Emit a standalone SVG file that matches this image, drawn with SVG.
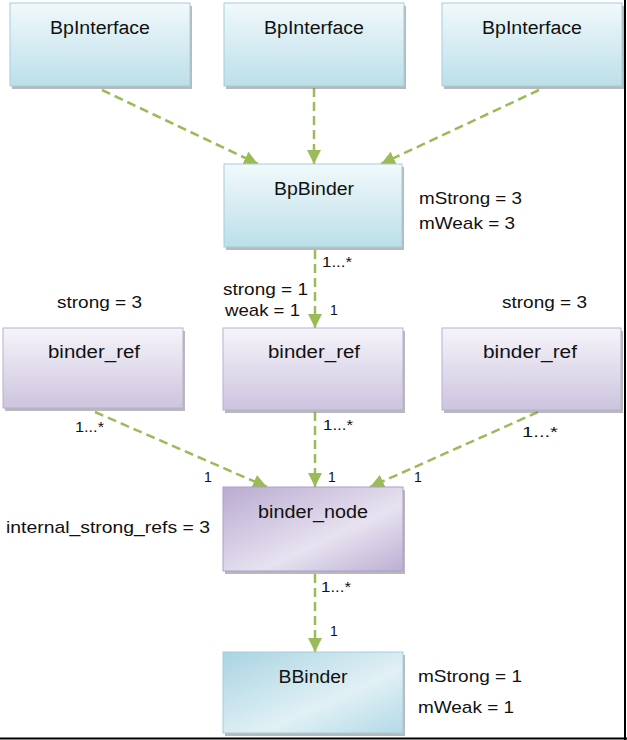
<svg xmlns="http://www.w3.org/2000/svg" width="627" height="740" viewBox="0 0 627 740">
  <defs>
    <linearGradient id="gBlue" x1="0" y1="0" x2="0" y2="1">
      <stop offset="0" stop-color="#f1f9fb"/>
      <stop offset="1" stop-color="#bcdfe9"/>
    </linearGradient>
    <linearGradient id="gPurple" x1="0" y1="0" x2="0" y2="1">
      <stop offset="0" stop-color="#f6f4fa"/>
      <stop offset="1" stop-color="#cdc4de"/>
    </linearGradient>
    <linearGradient id="gBlueDiag" x1="0" y1="0" x2="1" y2="1">
      <stop offset="0" stop-color="#a9d4e2"/>
      <stop offset="0.6" stop-color="#e1f0f5"/>
      <stop offset="1" stop-color="#b3d9e6"/>
    </linearGradient>
    <linearGradient id="gPurpleDiag" x1="0" y1="0" x2="1" y2="1">
      <stop offset="0" stop-color="#b9abd1"/>
      <stop offset="0.6" stop-color="#e7e2f0"/>
      <stop offset="1" stop-color="#bcafd3"/>
    </linearGradient>
    <marker id="arrow" markerUnits="userSpaceOnUse" markerWidth="14" markerHeight="14" viewBox="0 0 12 12" refX="12" refY="6" orient="auto">
      <path d="M0,0 L12,6 L0,12 Z" fill="#9bbb59"/>
    </marker>
  </defs>
  <style>
    .shadow { fill: #7f7f7f; opacity: 0.55; }
    .blue { fill: url(#gBlue); stroke: #a3cedb; stroke-width: 1; }
    .purple { fill: url(#gPurple); stroke: #b9afd1; stroke-width: 1; }
    .blueD { fill: url(#gBlueDiag); stroke: #a3cedb; stroke-width: 1; }
    .purpleD { fill: url(#gPurpleDiag); stroke: #ad9fc8; stroke-width: 1; }
    .name { font-family: "Liberation Sans", Arial, sans-serif; font-size: 18px; fill: #111; text-anchor: middle; }
    .lbl { font-family: "Liberation Sans", Arial, sans-serif; font-size: 17px; fill: #111; }
    .mul { font-family: "Liberation Sans", Arial, sans-serif; font-size: 14px; fill: #111; }
    .conn { stroke: #9bbb59; stroke-width: 2.5; fill: none; stroke-dasharray: 9 5; marker-end: url(#arrow); }
  </style>

  <rect width="627" height="740" fill="#ffffff"/>

  <g id="connectors">
    <line class="conn" x1="102" y1="90" x2="258" y2="164"/>
    <line class="conn" x1="314" y1="88" x2="314" y2="164"/>
    <line class="conn" x1="539" y1="90" x2="381" y2="164"/>
    <line class="conn" x1="315" y1="250" x2="315" y2="328"/>
    <line class="conn" x1="95" y1="412" x2="267" y2="487"/>
    <line class="conn" x1="315" y1="412" x2="315" y2="487"/>
    <line class="conn" x1="538" y1="412" x2="370" y2="487"/>
    <line class="conn" x1="315" y1="574" x2="315" y2="652"/>
    <text class="mul" x="322" y="267" textLength="30" lengthAdjust="spacingAndGlyphs">1...*</text>
    <text class="mul" x="330" y="315">1</text>
    <text class="mul" x="75" y="432" textLength="29" lengthAdjust="spacingAndGlyphs">1...*</text>
    <text class="mul" x="204" y="482">1</text>
    <text class="mul" x="323" y="430" textLength="30" lengthAdjust="spacingAndGlyphs">1...*</text>
    <text class="mul" x="328" y="482">1</text>
    <text class="mul" x="522" y="437" textLength="36" lengthAdjust="spacingAndGlyphs">1...*</text>
    <text class="mul" x="414" y="482">1</text>
    <text class="mul" x="321" y="592" textLength="30" lengthAdjust="spacingAndGlyphs">1...*</text>
    <text class="mul" x="330" y="636">1</text>
  </g>

  <g id="bpinterface1">
    <rect class="shadow" x="12" y="6" width="180" height="83"/>
    <rect class="blue" x="10" y="3" width="180" height="83"/>
    <text class="name" x="100" y="34" textLength="100" lengthAdjust="spacingAndGlyphs">BpInterface</text>
  </g>
  <g id="bpinterface2">
    <rect class="shadow" x="226" y="6" width="180" height="83"/>
    <rect class="blue" x="224" y="3" width="180" height="83"/>
    <text class="name" x="314" y="34" textLength="100" lengthAdjust="spacingAndGlyphs">BpInterface</text>
  </g>
  <g id="bpinterface3">
    <rect class="shadow" x="444" y="6" width="180" height="83"/>
    <rect class="blue" x="442" y="3" width="180" height="83"/>
    <text class="name" x="532" y="34" textLength="100" lengthAdjust="spacingAndGlyphs">BpInterface</text>
  </g>

  <g id="bpbinder">
    <rect class="shadow" x="226" y="167" width="178" height="83"/>
    <rect class="blue" x="224" y="164" width="178" height="83"/>
    <text class="name" x="314" y="195" textLength="80" lengthAdjust="spacingAndGlyphs">BpBinder</text>
    <text class="lbl" x="419" y="204" textLength="103" lengthAdjust="spacingAndGlyphs">mStrong = 3</text>
    <text class="lbl" x="419" y="229" textLength="96" lengthAdjust="spacingAndGlyphs">mWeak = 3</text>
  </g>

  <g id="binder_ref_left">
    <text class="lbl" x="57" y="308" textLength="85" lengthAdjust="spacingAndGlyphs">strong = 3</text>
    <rect class="shadow" x="5" y="331" width="180" height="80"/>
    <rect class="purple" x="3" y="328" width="180" height="80"/>
    <text class="name" x="94" y="358" textLength="92" lengthAdjust="spacingAndGlyphs">binder_ref</text>
  </g>
  <g id="binder_ref_mid">
    <text class="lbl" x="223" y="295" textLength="85" lengthAdjust="spacingAndGlyphs">strong = 1</text>
    <text class="lbl" x="225" y="316" textLength="75" lengthAdjust="spacingAndGlyphs">weak = 1</text>
    <rect class="shadow" x="225" y="331" width="180" height="82"/>
    <rect class="purple" x="223" y="328" width="180" height="82"/>
    <text class="name" x="314" y="358" textLength="92" lengthAdjust="spacingAndGlyphs">binder_ref</text>
  </g>
  <g id="binder_ref_right">
    <text class="lbl" x="502" y="308" textLength="85" lengthAdjust="spacingAndGlyphs">strong = 3</text>
    <rect class="shadow" x="444" y="331" width="179" height="82"/>
    <rect class="purple" x="442" y="328" width="179" height="82"/>
    <text class="name" x="530" y="358" textLength="94" lengthAdjust="spacingAndGlyphs">binder_ref</text>
  </g>

  <g id="binder_node">
    <text class="lbl" x="6" y="533" textLength="204" lengthAdjust="spacingAndGlyphs">internal_strong_refs = 3</text>
    <rect class="shadow" x="225" y="490" width="180" height="84"/>
    <rect class="purpleD" x="223" y="487" width="180" height="84"/>
    <text class="name" x="313" y="518" textLength="110" lengthAdjust="spacingAndGlyphs">binder_node</text>
  </g>

  <g id="bbinder">
    <rect class="shadow" x="225" y="655" width="180" height="81"/>
    <rect class="blueD" x="223" y="652" width="180" height="81"/>
    <text class="name" x="313" y="683" textLength="69" lengthAdjust="spacingAndGlyphs">BBinder</text>
    <text class="lbl" x="418" y="682" textLength="104" lengthAdjust="spacingAndGlyphs">mStrong = 1</text>
    <text class="lbl" x="418" y="713" textLength="96" lengthAdjust="spacingAndGlyphs">mWeak = 1</text>
  </g>

  <g id="frame">
    <line x1="625" y1="0" x2="625" y2="740" stroke="#000" stroke-width="2"/>
    <line x1="0" y1="738.5" x2="627" y2="738.5" stroke="#000" stroke-width="2"/>
  </g>
</svg>
